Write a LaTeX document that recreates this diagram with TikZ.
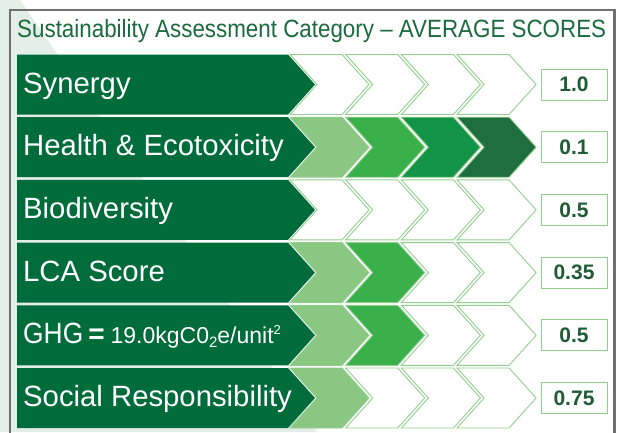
\documentclass[tikz,border=0pt]{standalone}
\usepackage{fontspec}
\setmainfont{Liberation Sans}
\newfontfamily\titlefont[FakeStretch=0.895]{Liberation Sans}
\newfontfamily\ghgfont[FakeStretch=0.9]{Liberation Sans}
\definecolor{bgl}{HTML}{E4EEE8}
\definecolor{framec}{HTML}{707070}
\definecolor{titlec}{HTML}{1B6B3F}
\definecolor{darkg}{HTML}{006C3B}
\definecolor{chevline}{HTML}{92CF8E}
\definecolor{ca}{HTML}{89C783}
\definecolor{cb}{HTML}{3AB04B}
\definecolor{cc}{HTML}{129447}
\definecolor{cd}{HTML}{1E6E3F}
\definecolor{scorec}{HTML}{1F5C36}
\newcommand\chev[3]{%
  \pgfmathsetmacro\bx{290+55.7*#2}%
  \filldraw[chevshape, fill=#3] (\bx,#1) -- ++(52,0) -- ++(27,30) -- ++(-27,30) -- ++(-52,0) -- ++(27,-30) -- cycle;}
\newcommand\ghglabel{{\ghgfont GHG}\hspace{5pt}{\bfseries\fontsize{28}{28}\selectfont =}\hspace{6pt}{\fontsize{23}{23}\selectfont 19.0kgC0\raisebox{-4pt}{\fontsize{15}{15}\selectfont 2}e/unit\raisebox{9pt}{\fontsize{13}{13}\selectfont 2}}}
\begin{document}
\begin{tikzpicture}[x=1pt,y=-1pt,
  chevshape/.style={draw=chevline, line width=0.9pt},
  lab/.style={anchor=base west, inner sep=0pt, text=white, font=\fontsize{29.3}{29.3}\selectfont},
  score/.style={draw=chevline, line width=1pt, fill=white, minimum width=66pt, minimum height=31pt, inner sep=0pt, text=scorec, font=\bfseries\fontsize{21}{21}\selectfont}]
\useasboundingbox (0,0) rectangle (627,432);
\clip (0,0) rectangle (627,432);
\fill[white] (0,0) rectangle (627,432);
\fill[bgl] (0,0) -- (20,0) -- (317,432) -- (0,432) -- cycle;
\draw[framec, line width=2.2pt] (10,10) rectangle (614.5,450);
\node[anchor=base west, inner sep=0pt, text=titlec, font=\titlefont\fontsize{25}{25}\selectfont] (title) at (17,37) {Sustainability Assessment Category – AVERAGE SCORES};
\foreach \i/\lab/\sc/\fa/\fb/\fc/\fd in {%
  0/Synergy/1.0/white/white/white/white,
  1/{Health \& Ecotoxicity}/0.1/ca/cb/cc/cd,
  2/Biodiversity/0.5/white/white/white/white,
  3/LCA Score/0.35/ca/cb/white/white,
  4/\ghglabel/0.5/ca/cb/white/white,
  5/Social Responsibility/0.75/ca/white/white/white}{
  \pgfmathsetmacro\t{54.5+62.7*\i}
  \fill[darkg] (17,\t) -- (288,\t) -- (315,{\t+30}) -- (288,{\t+60}) -- (17,{\t+60}) -- cycle;
  \chev{\t}{0}{\fa}
  \chev{\t}{1}{\fb}
  \chev{\t}{2}{\fc}
  \chev{\t}{3}{\fd}
  \node[lab] (lab\i) at (23,{\t+38.5}) {\lab};
  \node[score] (sc\i) at (574,{\t+30}) {\sc};
}
\end{tikzpicture}
\end{document}
